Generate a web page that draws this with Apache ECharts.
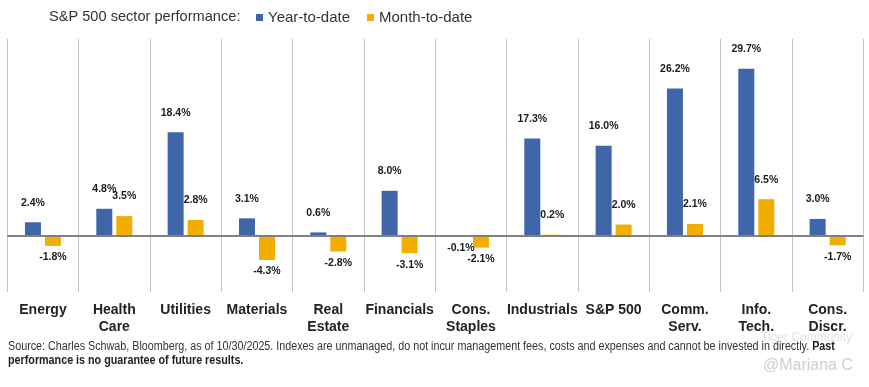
<!DOCTYPE html>
<html>
<head>
<meta charset="utf-8">
<script src="https://cdn.jsdelivr.net/npm/echarts@6/dist/echarts.min.js"></script>
<style>
html,body{margin:0;padding:0;background:#fff;}
#chart{width:869px;height:387px;}
</style>
</head>
<body>
<div id="chart"></div>
<script>
var categories = ["Energy", "Health\nCare", "Utilities", "Materials", "Real\nEstate", "Financials", "Cons.\nStaples", "Industrials", "S&P 500", "Comm.\nServ.", "Info.\nTech.", "Cons.\nDiscr."];
var ytd = [2.4, 4.8, 18.4, 3.1, 0.6, 8.0, -0.1, 17.3, 16.0, 26.2, 29.7, 3.0];
var mtd = [-1.8, 3.5, 2.8, -4.3, -2.8, -3.1, -2.1, 0.2, 2.0, 2.1, 6.5, -1.7];
var seriesNames = ["Year-to-date", "Month-to-date"];
var titleText = "S&P 500 sector performance:";
var sourceText = "Source: Charles Schwab, Bloomberg, as of 10/30/2025. Indexes are unmanaged, do not incur management fees, costs and expenses and cannot be invested in directly. ";
var boldText1 = "Past";
var boldText2 = "performance is no guarantee of future results.";

var BLUE = "#3f66a8", ORANGE = "#f2ae00";

function toItems(arr) {
  return arr.map(function (v) {
    return {
      value: v,
      label: { position: v < 0 ? "bottom" : "top", distance: v < 0 ? 6 : 14 }
    };
  });
}

var labelStyle = {
  show: true,
  formatter: function (p) { return p.value.toFixed(1) + "%"; },
  fontFamily: "Liberation Sans, Arial, sans-serif",
  fontWeight: "bold",
  fontSize: 10.5,
  color: "#1a1a1a"
};

var chart = echarts.init(document.getElementById("chart"), null, { renderer: "canvas" });
chart.setOption({
  animation: false,
  backgroundColor: "#fff",
  legend: {
    left: 251,
    top: 5,
    itemWidth: 7,
    itemHeight: 7,
    itemGap: 17,
    icon: "rect",
    textStyle: { fontFamily: "Liberation Sans, Arial, sans-serif", fontSize: 15, color: "#333" },
    data: seriesNames
  },
  grid: { left: 7.3, right: 5.7, top: 39, bottom: 95, containLabel: false },
  xAxis: {
    type: "category",
    data: categories,
    axisLine: { show: false, onZero: false },
    axisTick: { show: false },
    splitLine: { show: true, lineStyle: { color: "#c4c4c4", width: 1 } },
    axisLabel: {
      interval: 0,
      margin: 10,
      fontFamily: "Liberation Sans, Arial, sans-serif",
      fontWeight: "bold",
      fontSize: 14,
      lineHeight: 17,
      color: "#222"
    }
  },
  yAxis: {
    type: "value",
    min: -10,
    max: 35,
    show: false,
    splitLine: { show: false }
  },
  series: [
    {
      name: seriesNames[0],
      type: "bar",
      data: toItems(ytd),
      barWidth: 16,
      barGap: "25%",
      itemStyle: { color: BLUE },
      label: labelStyle,
      markLine: {
        silent: true,
        symbol: "none",
        label: { show: false },
        lineStyle: { color: "#808080", width: 2, type: "solid" },
        data: [{ yAxis: 0 }]
      }
    },
    {
      name: seriesNames[1],
      type: "bar",
      data: toItems(mtd),
      barWidth: 16,
      itemStyle: { color: ORANGE },
      label: labelStyle
    }
  ],
  graphic: [
    {
      type: "text",
      left: 49,
      top: 9,
      style: { text: titleText, fontFamily: "Liberation Sans, Arial, sans-serif", fontSize: 14.6, fill: "#333" }
    },
    {
      type: "text",
      x: 8,
      y: 340,
      scaleX: 0.86,
      originX: 0,
      style: {
        text: "{n|" + sourceText + "}{b|" + boldText1 + "}\n{b|" + boldText2 + "}",
        rich: {
          n: { fontFamily: "Liberation Sans, Arial, sans-serif", fontSize: 12.5, fill: "#333", lineHeight: 14 },
          b: { fontFamily: "Liberation Sans, Arial, sans-serif", fontSize: 12.5, fontWeight: "bold", fill: "#222", lineHeight: 14 }
        }
      }
    },
    {
      type: "text",
      right: 16,
      top: 358,
      style: { text: "@Mariana C", fontFamily: "Liberation Sans, Arial, sans-serif", fontSize: 16, fill: "#cfcfcf" }
    },
    {
      type: "text",
      right: 17,
      top: 332,
      z: -1,
      style: { text: "Tiger Community", fontFamily: "Liberation Sans, Arial, sans-serif", fontSize: 12, fill: "#e2e2e2" }
    }
  ]
});
</script>
</body>
</html>
